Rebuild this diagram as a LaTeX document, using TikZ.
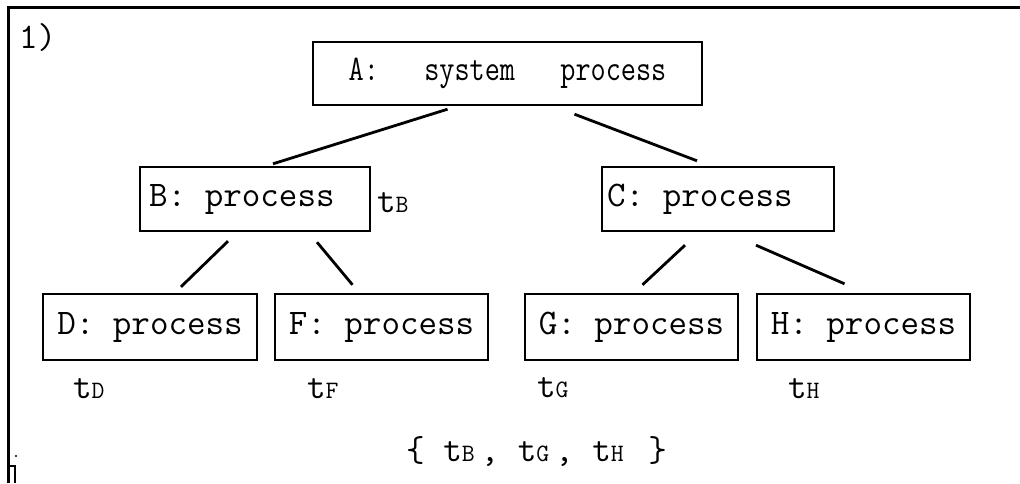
\documentclass[tikz,border=0pt]{standalone}
\usepackage{graphicx}
\usepackage{fontspec}
\usetikzlibrary{calc}
\newcommand\bigfont{\ttfamily\addfontfeatures{FakeBold=1.2}\fontsize{36}{40}\selectfont}
\newcommand\smallsub[1]{\makebox[18.9pt][l]{\fontsize{25}{28}\selectfont #1}}
\newcommand\boxtxt[1]{{\bigfont #1}}
\newcommand\tlab[1]{{\bigfont t\smallsub{#1}}}
\tikzset{
  procbox/.style={draw, line width=2.4pt, inner sep=0pt, minimum height=64pt},
  conn/.style={line width=2.8pt},
  tlabel/.style={anchor=base west, inner sep=0pt},
}
\begin{document}
\begin{tikzpicture}[x=1pt,y=-1pt]
\useasboundingbox (0,0) rectangle (1020,483);
% frame
\draw[line width=3pt] (8,483) -- (8,7) -- (1020,7);
\draw[line width=2pt] (15,483) -- (15,466) -- (9,466);
\fill (16,456) circle (1.2pt);
\node[anchor=base west, inner sep=0pt] (num) at (19,48) {\bigfont 1)};
% boxes
\node[procbox, minimum width=389pt, minimum height=63pt] (A) at (507.5,73.5)
  {\scalebox{0.816}[1]{\bigfont A:~~~system~~~process}};
\node[procbox, minimum width=230pt] (B) at (255,199) {};
\node[anchor=west, inner sep=0pt] (Bt) at (149,199) {\boxtxt{B: process}};
\node[procbox, minimum width=232pt] (C) at (718,199) {};
\node[anchor=west, inner sep=0pt] (Ct) at (607,199) {\boxtxt{C: process}};
\node[procbox, minimum width=214pt, minimum height=66pt] (D) at (150,327) {\boxtxt{D: process}};
\node[procbox, minimum width=213pt, minimum height=66pt] (F) at (381.5,327) {\boxtxt{F: process}};
\node[procbox, minimum width=213pt, minimum height=66pt] (G) at (631.5,327) {\boxtxt{G: process}};
\node[procbox, minimum width=213pt, minimum height=66pt] (H) at (863.5,327) {\boxtxt{H: process}};
% time labels
\node[tlabel] (tB) at (377,212) {\tlab{B}};
\node[tlabel] (tD) at (73,398) {\tlab{D}};
\node[tlabel] (tF) at (307,398) {\tlab{F}};
\node[tlabel] (tG) at (537,397) {\tlab{G}};
\node[tlabel] (tH) at (788,398) {\tlab{H}};
\node[tlabel] (set) at (406,461) {\bigfont \{ t\smallsub{B}, t\smallsub{G}, t\smallsub{H} \}};
% connectors
\draw[conn] ($(A.south)+(-60,3)$) -- ($(B.north)+(18,-2)$);
\draw[conn] ($(A.south)+(67,8)$) -- ($(C.north)+(-21,-5)$);
\draw[conn] ($(B.south)+(-27,9)$) -- ($(D.north)+(31,-6)$);
\draw[conn] ($(B.south)+(62,10)$) -- ($(F.north)+(-29,-8)$);
\draw[conn] ($(C.south)+(-33,13)$) -- ($(G.north)+(11,-8)$);
\draw[conn] ($(C.south)+(38,13)$) -- ($(H.north)+(-19,-9)$);
\end{tikzpicture}
\end{document}
